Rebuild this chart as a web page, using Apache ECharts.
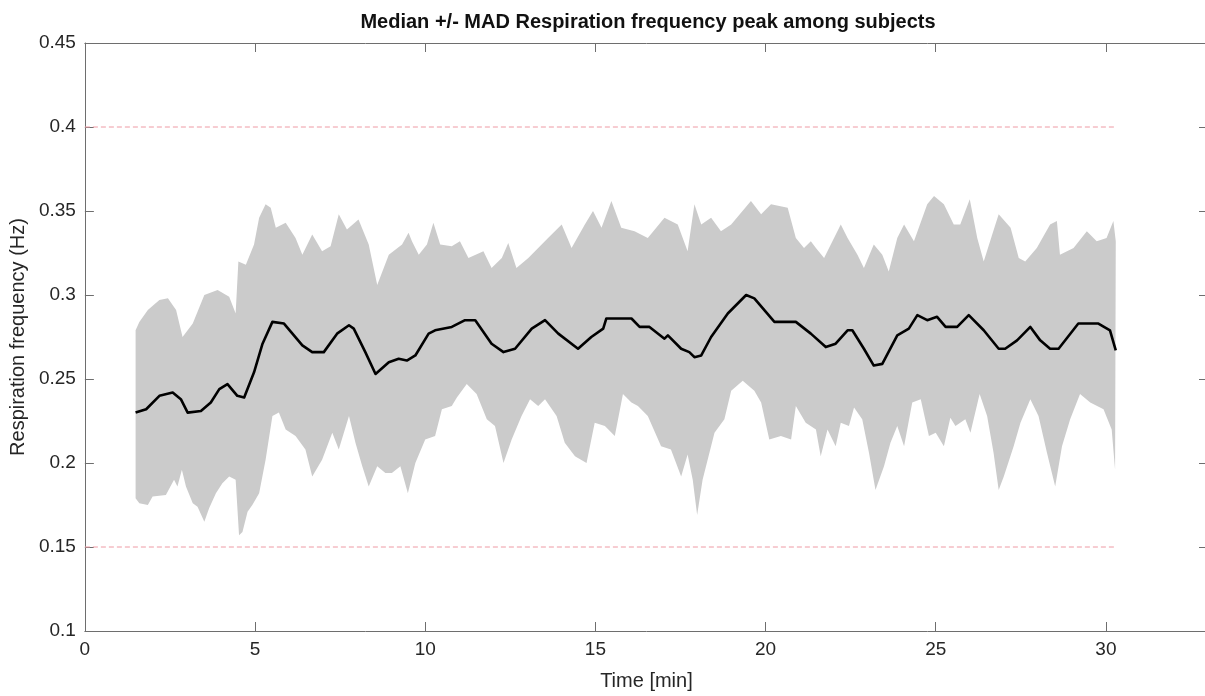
<!DOCTYPE html>
<html>
<head>
<meta charset="utf-8">
<script src="https://cdn.jsdelivr.net/npm/echarts@6/dist/echarts.min.js"></script>
<style>
html,body{margin:0;padding:0;background:#fff;overflow:hidden;width:1205px;height:696px;}
#chart{width:1225px;height:696px;}
</style>
</head>
<body>
<div id="chart"></div>
<script>
// ---- data ----
const titleText = 'Median +/- MAD Respiration frequency peak among subjects';
const xLabel = 'Time [min]';
const yLabel = 'Respiration frequency (Hz)';

const xTicks = [0, 5, 10, 15, 20, 25, 30];
const yTicks = [0.1, 0.15, 0.2, 0.25, 0.3, 0.35, 0.4, 0.45];

const limitLow = 0.15;
const limitHigh = 0.4;
const limitTime = [0, 30.3];

const timeMedian = [1.49,1.80,2.19,2.58,2.82,3.02,3.41,3.70,3.95,4.19,4.48,4.68,4.97,5.22,5.51,5.85,6.39,6.68,7.02,7.41,7.76,7.90,8.24,8.54,8.93,9.22,9.46,9.71,10.10,10.29,10.78,11.17,11.47,11.95,12.30,12.64,13.13,13.52,13.91,14.49,14.88,15.23,15.32,16.06,16.30,16.59,17.03,17.13,17.52,17.76,17.91,18.11,18.40,18.89,19.43,19.67,20.26,20.89,21.33,21.77,22.06,22.41,22.55,22.89,23.18,23.43,23.87,24.21,24.46,24.75,25.04,25.29,25.63,25.97,26.41,26.85,27.04,27.39,27.78,28.07,28.36,28.61,29.19,29.78,30.12,30.29];
const median = [0.230,0.232,0.240,0.242,0.238,0.230,0.231,0.236,0.244,0.247,0.240,0.239,0.254,0.271,0.284,0.283,0.270,0.266,0.266,0.277,0.282,0.280,0.266,0.253,0.260,0.262,0.261,0.264,0.277,0.279,0.281,0.285,0.285,0.271,0.266,0.268,0.280,0.285,0.277,0.268,0.275,0.280,0.286,0.286,0.281,0.281,0.274,0.276,0.268,0.266,0.263,0.264,0.275,0.289,0.300,0.298,0.284,0.284,0.277,0.269,0.271,0.279,0.279,0.268,0.258,0.259,0.276,0.280,0.288,0.285,0.287,0.281,0.281,0.288,0.279,0.268,0.268,0.273,0.281,0.273,0.268,0.268,0.283,0.283,0.279,0.267];

const timeUpper = [1.49,1.60,1.85,2.19,2.44,2.68,2.87,3.17,3.51,3.90,4.24,4.43,4.51,4.73,4.97,5.12,5.31,5.46,5.61,5.90,6.19,6.39,6.68,6.97,7.22,7.46,7.70,8.04,8.34,8.59,8.93,9.32,9.51,9.61,9.81,10.05,10.24,10.44,10.78,11.02,11.27,11.71,11.95,12.25,12.44,12.68,13.03,13.61,14.01,14.30,14.69,14.93,15.18,15.47,15.76,16.15,16.54,17.03,17.42,17.71,17.91,18.11,18.40,18.69,18.99,19.57,19.87,20.16,20.65,20.89,21.13,21.33,21.48,21.72,22.21,22.41,22.70,22.89,23.18,23.43,23.62,23.87,24.07,24.36,24.75,24.95,25.24,25.53,25.72,26.00,26.22,26.41,26.66,26.85,27.20,27.44,27.63,27.97,28.36,28.56,28.65,29.05,29.44,29.73,30.02,30.22,30.29];
const upper = [0.279,0.284,0.291,0.297,0.298,0.291,0.275,0.283,0.300,0.303,0.299,0.289,0.320,0.318,0.330,0.346,0.354,0.352,0.340,0.343,0.334,0.324,0.336,0.326,0.329,0.348,0.339,0.345,0.330,0.306,0.324,0.330,0.337,0.332,0.324,0.330,0.343,0.330,0.329,0.332,0.322,0.326,0.316,0.322,0.331,0.316,0.322,0.334,0.342,0.328,0.342,0.350,0.340,0.356,0.340,0.338,0.334,0.346,0.342,0.326,0.354,0.342,0.346,0.338,0.342,0.356,0.348,0.354,0.352,0.334,0.328,0.332,0.328,0.322,0.342,0.334,0.324,0.316,0.330,0.324,0.314,0.334,0.342,0.332,0.354,0.359,0.354,0.342,0.342,0.357,0.334,0.320,0.336,0.348,0.340,0.322,0.320,0.328,0.342,0.344,0.324,0.328,0.338,0.332,0.334,0.344,0.332];

const timeLower = [1.49,1.60,1.85,1.99,2.38,2.62,2.72,2.85,2.97,3.17,3.31,3.51,3.65,3.85,4.04,4.24,4.43,4.53,4.63,4.78,4.92,5.12,5.31,5.51,5.70,5.90,6.19,6.48,6.68,6.97,7.27,7.46,7.76,7.95,8.15,8.34,8.59,8.83,9.02,9.27,9.49,9.71,10.00,10.29,10.49,10.78,10.93,11.22,11.51,11.81,12.05,12.30,12.54,12.83,13.08,13.32,13.52,13.86,14.10,14.40,14.74,14.98,15.28,15.57,15.81,16.06,16.25,16.54,16.93,17.22,17.52,17.71,17.86,17.99,18.15,18.50,18.79,18.99,19.33,19.67,19.87,20.11,20.45,20.75,20.89,21.18,21.48,21.62,21.82,22.06,22.21,22.45,22.60,22.84,23.04,23.23,23.48,23.67,23.87,24.07,24.31,24.56,24.80,25.00,25.24,25.43,25.58,25.87,26.02,26.29,26.51,26.70,26.85,27.00,27.29,27.49,27.78,28.02,28.27,28.51,28.71,28.95,29.24,29.54,29.93,30.17,30.27];
const lower = [0.179,0.176,0.175,0.180,0.181,0.190,0.186,0.196,0.186,0.176,0.174,0.165,0.173,0.182,0.188,0.192,0.190,0.157,0.159,0.171,0.175,0.182,0.202,0.228,0.230,0.220,0.216,0.208,0.192,0.202,0.218,0.208,0.228,0.212,0.198,0.186,0.198,0.194,0.194,0.198,0.182,0.200,0.214,0.216,0.232,0.234,0.239,0.247,0.241,0.226,0.222,0.200,0.214,0.228,0.238,0.234,0.238,0.228,0.212,0.204,0.200,0.224,0.222,0.216,0.241,0.236,0.234,0.228,0.210,0.208,0.192,0.205,0.190,0.169,0.190,0.218,0.226,0.243,0.249,0.243,0.236,0.214,0.216,0.214,0.234,0.224,0.220,0.204,0.220,0.210,0.224,0.222,0.233,0.226,0.206,0.184,0.198,0.212,0.222,0.210,0.236,0.238,0.216,0.218,0.210,0.227,0.222,0.226,0.218,0.241,0.228,0.206,0.184,0.192,0.210,0.224,0.238,0.228,0.206,0.186,0.210,0.226,0.241,0.236,0.232,0.220,0.196];

// ---- chart ----
const FONT = '"Liberation Sans", Arial, Helvetica, sans-serif';
const AXIS = '#6e6e6e';
const TEXT = '#262626';
const chart = echarts.init(document.getElementById('chart'), null, {renderer: 'canvas'});

const xMin = xTicks[0], xMax = 33, xStep = xTicks[1] - xTicks[0];
const yMin = yTicks[0], yMax = yTicks[yTicks.length - 1], yStep = 0.05;

const fmtY = v => String(+v.toFixed(2));

function baseX(pos, show) {
  return {
    type: 'value', position: pos, min: xMin, max: xMax, interval: xStep,
    axisLine: {show: true, onZero: false, lineStyle: {color: AXIS, width: 1}},
    axisTick: {show: true, inside: true, length: 9, lineStyle: {color: AXIS}},
    axisLabel: {show: show, color: TEXT, fontSize: 19, fontFamily: FONT, margin: 9, showMaxLabel: false},
    splitLine: {show: false}
  };
}
function baseY(pos, show) {
  return {
    type: 'value', position: pos, min: yMin, max: yMax, interval: yStep,
    axisLine: {show: true, onZero: false, lineStyle: {color: AXIS, width: 1}},
    axisTick: {show: true, inside: true, length: 9, lineStyle: {color: AXIS}},
    axisLabel: {show: show, color: TEXT, fontSize: 19, fontFamily: FONT, margin: 9, formatter: fmtY},
    splitLine: {show: false}
  };
}

const xBottom = Object.assign(baseX('bottom', true), {
  name: xLabel, nameLocation: 'middle', nameGap: 40,
  nameTextStyle: {color: TEXT, fontSize: 20, fontFamily: FONT}
});
const yLeft = Object.assign(baseY('left', true), {
  name: yLabel, nameLocation: 'middle', nameGap: 54,
  nameTextStyle: {color: TEXT, fontSize: 20, fontFamily: FONT}
});

const option = {
  backgroundColor: '#ffffff',
  animation: false,
  title: {
    text: titleText, left: 643, top: 7, textAlign: 'center',
    textStyle: {color: '#111', fontSize: 20, fontWeight: 'bold', fontFamily: FONT}
  },
  grid: {left: 82, top: 43, width: 1126, height: 593, containLabel: false},
  xAxis: [xBottom, baseX('top', false)],
  yAxis: [yLeft, baseY('right', false)],
  series: [
    {
      type: 'custom',
      name: 'MAD band',
      xAxisIndex: 0, yAxisIndex: 0,
      silent: true,
      z: 1,
      data: [[timeUpper[0], upper[0]]],
      renderItem: function (params, api) {
        const pts = [];
        for (let i = 0; i < timeUpper.length; i++) pts.push(api.coord([timeUpper[i], upper[i]]));
        for (let i = timeLower.length - 1; i >= 0; i--) pts.push(api.coord([timeLower[i], lower[i]]));
        return {type: 'polygon', shape: {points: pts}, style: {fill: '#cbcbcb', stroke: null}};
      }
    },
    {
      type: 'line', name: 'upper limit', xAxisIndex: 0, yAxisIndex: 0,
      data: [[limitTime[0], limitHigh], [limitTime[1], limitHigh]],
      symbol: 'none', z: 3,
      lineStyle: {color: '#ee9aa4', width: 1, type: [5, 3]}
    },
    {
      type: 'line', name: 'lower limit', xAxisIndex: 0, yAxisIndex: 0,
      data: [[limitTime[0], limitLow], [limitTime[1], limitLow]],
      symbol: 'none', z: 3,
      lineStyle: {color: '#ee9aa4', width: 1, type: [5, 3]}
    },
    {
      type: 'line', name: 'median', xAxisIndex: 0, yAxisIndex: 0,
      data: timeMedian.map((t, i) => [t, median[i]]),
      symbol: 'none', z: 4,
      lineStyle: {color: '#000', width: 2.6, join: 'round'}
    }
  ]
};
chart.setOption(option);
</script>
</body>
</html>
